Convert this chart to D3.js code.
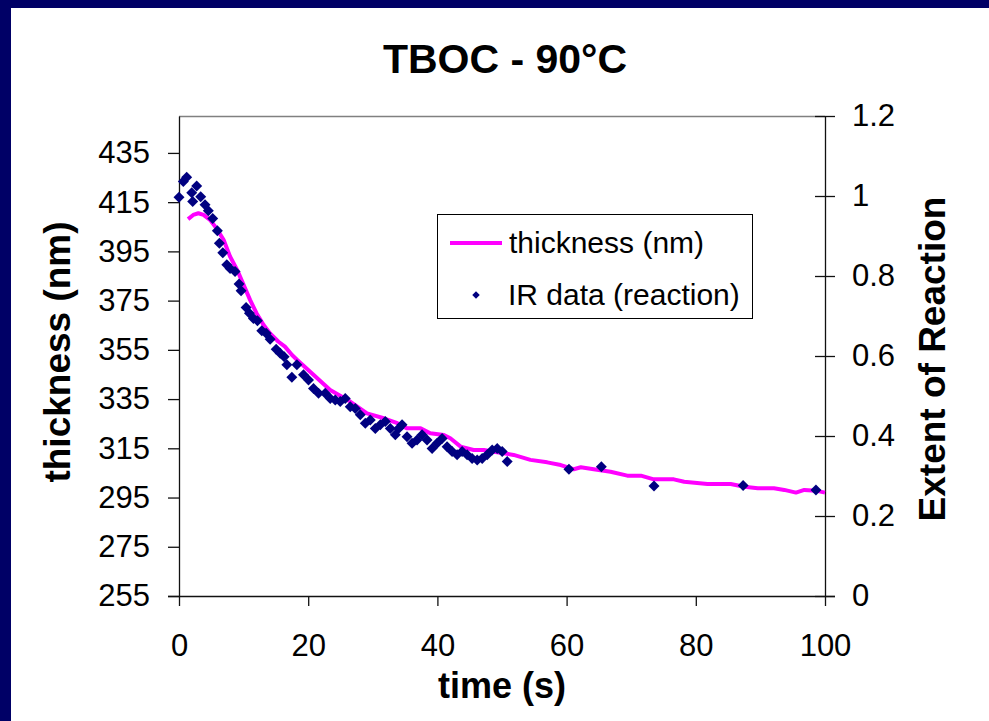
<!DOCTYPE html>
<html>
<head>
<meta charset="utf-8">
<script src="https://cdn.jsdelivr.net/npm/d3@7"></script>
<style>
body { margin: 0; background: #fff; }
svg { display: block; font-family: "Liberation Sans", Arial, sans-serif; }
</style>
</head>
<body>
<svg id="canvas"></svg>
<script>
var width = 989
var height = 721

// thickness line (left axis)
var lineTime = [1.4, 2.2, 3.0, 3.8, 4.8, 5.8, 6.9, 7.9, 9.0, 10.0, 11.0, 12.0, 13.1, 14.1, 15.4, 16.4, 17.5, 18.3, 20.3, 23.4, 26.5, 29.1, 31.7, 33.8, 35.3, 37.4, 38.9, 41.0, 42.0, 43.6, 45.6, 47.2, 48.7, 50.3, 51.8, 54.4, 57.0, 59.1, 61.1, 62.2, 64.2, 66.8, 69.4, 71.5, 73.5, 76.6, 78.2, 81.8, 85.4, 87.5, 89.6, 92.1, 93.7, 95.5, 96.8, 98.6, 100]
var lineThickness = [408.1, 409.8, 410.5, 409.8, 407.8, 404.4, 399.7, 392.9, 387.5, 381.4, 375.3, 369.9, 365.1, 361.7, 358.3, 356.3, 352.9, 350.9, 346.1, 338.7, 334.0, 329.2, 327.2, 325.2, 323.1, 323.1, 321.1, 320.4, 319.1, 315.7, 314.3, 314.3, 313.6, 313.0, 312.3, 310.3, 309.3, 308.2, 306.5, 307.3, 306.5, 305.5, 303.9, 303.9, 302.4, 302.4, 301.4, 300.5, 300.5, 299.4, 298.8, 298.8, 298.1, 297.0, 298.1, 297.8, 297.0]

// IR data points (right axis)
var irTime = [0, 0.67, 1.19, 1.97, 2.12, 2.74, 3.36, 4.03, 4.54, 5.22, 5.94, 6.25, 6.78, 7.4, 7.91, 8.68, 9.3, 9.61, 10.39, 10.9, 11.52, 12.14, 12.82, 13.49, 14.11, 15.04, 15.66, 16.28, 16.7, 17.47, 18.25, 19.27, 20.05, 20.82, 21.6, 22.64, 23.41, 24.19, 24.96, 25.74, 26.51, 27.29, 28.06, 28.84, 29.61, 30.39, 31.16, 31.94, 32.71, 33.49, 34.0, 34.53, 35.3, 36.08, 36.85, 37.63, 38.4, 39.18, 39.95, 40.73, 41.5, 42.28, 43.05, 43.83, 44.6, 45.38, 46.16, 46.93, 47.71, 48.48, 49.26, 50.03, 50.81, 60.36, 65.38, 73.53, 87.33, 98.6]
var irExtent = [0.997, 1.036, 1.047, 1.008, 0.986, 1.025, 0.998, 0.978, 0.963, 0.944, 0.913, 0.882, 0.858, 0.828, 0.819, 0.811, 0.78, 0.763, 0.721, 0.707, 0.694, 0.688, 0.663, 0.657, 0.642, 0.617, 0.607, 0.598, 0.578, 0.547, 0.578, 0.553, 0.54, 0.519, 0.507, 0.507, 0.494, 0.49, 0.486, 0.494, 0.473, 0.469, 0.453, 0.432, 0.44, 0.419, 0.428, 0.436, 0.419, 0.403, 0.419, 0.428, 0.398, 0.382, 0.39, 0.403, 0.39, 0.369, 0.382, 0.394, 0.373, 0.361, 0.353, 0.361, 0.353, 0.344, 0.34, 0.344, 0.353, 0.365, 0.369, 0.361, 0.336, 0.317, 0.323, 0.275, 0.276, 0.265]

var xTicks = [0, 20, 40, 60, 80, 100]
var leftTicks = [255, 275, 295, 315, 335, 355, 375, 395, 415, 435]
var rightTicks = [0, 0.2, 0.4, 0.6, 0.8, 1, 1.2]

var plotLeft = 179, plotRight = 825, plotTop = 116, plotBottom = 596

var svg = d3.select("#canvas")
	.attr("width", width)
	.attr("height", height)

svg.append("rect").attr("width", width).attr("height", height).attr("fill", "#fff")
// navy slide frame
svg.append("rect").attr("x", 0).attr("y", 0).attr("width", width).attr("height", 8).attr("fill", "#000066")
svg.append("rect").attr("x", 0).attr("y", 0).attr("width", 11).attr("height", height).attr("fill", "#000066")

var x = d3.scaleLinear().domain([0, 100]).range([plotLeft, plotRight])
var yLeft = d3.scaleLinear().domain([255, 450]).range([plotBottom, plotTop])
var yRight = d3.scaleLinear().domain([0, 1.2]).range([plotBottom, plotTop])

// plot area top border
svg.append("line")
	.attr("x1", plotLeft).attr("x2", plotRight)
	.attr("y1", plotTop + 0.5).attr("y2", plotTop + 0.5)
	.attr("stroke", "#808080")
	.attr("stroke-width", 1.5)

function styleAxis(g, size) {
	g.selectAll("path, line").attr("stroke", "#111").attr("stroke-width", 1.3)
	g.selectAll("text").attr("font-size", size).attr("fill", "#000")
		.attr("font-family", "Liberation Sans, Arial, sans-serif")
}

var gx = svg.append("g")
	.attr("transform", "translate(0," + plotBottom + ")")
	.call(d3.axisBottom(x).tickValues(xTicks).tickSize(10).tickSizeOuter(0).tickPadding(28))
styleAxis(gx, 31)
gx.select(".domain").attr("d", "M" + (plotLeft - 11) + ",0.5H" + (plotRight + 10))

var gl = svg.append("g")
	.attr("transform", "translate(" + plotLeft + ",0)")
	.call(d3.axisLeft(yLeft).tickValues(leftTicks).tickSize(11).tickSizeOuter(0).tickPadding(18))
styleAxis(gl, 31)

var gr = svg.append("g")
	.attr("transform", "translate(" + plotRight + ",0)")
	.call(d3.axisRight(yRight).tickValues(rightTicks).tickFormat(d3.format("")).tickSize(10).tickSizeOuter(0).tickPadding(17))
styleAxis(gr, 31)

var gr2 = svg.append("g")
	.attr("transform", "translate(" + plotRight + ",0)")
	.call(d3.axisRight(yRight).tickValues(rightTicks).tickFormat("").tickSize(-10).tickSizeOuter(0))
styleAxis(gr2, 31)
gr2.select(".domain").remove()

// thickness line
var lineData = lineTime.map(function(t, i) { return [t, lineThickness[i]] })
svg.append("path")
	.datum(lineData)
	.attr("fill", "none")
	.attr("stroke", "#ff00ff")
	.attr("stroke-width", 4)
	.attr("stroke-linejoin", "round")
	.attr("d", d3.line()
		.x(function(d) { return x(d[0]) })
		.y(function(d) { return yLeft(d[1]) }))

// IR points
var pts = irTime.map(function(t, i) { return [t, irExtent[i]] })
svg.selectAll(".pt")
	.data(pts)
	.join("path")
	.attr("class", "pt")
	.attr("d", d3.symbol(d3.symbolSquare, 60))
	.attr("fill", "#000080")
	.attr("transform", function(d) {
		return "translate(" + x(d[0]) + "," + yRight(d[1]) + ") rotate(45)"
	})

// title and axis titles
svg.append("text")
	.attr("x", 505).attr("y", 73)
	.attr("text-anchor", "middle")
	.attr("font-size", 41).attr("font-weight", "bold")
	.text("TBOC - 90°C")

svg.append("text")
	.attr("x", 502).attr("y", 698)
	.attr("text-anchor", "middle")
	.attr("font-size", 36).attr("font-weight", "bold")
	.text("time (s)")

svg.append("text")
	.attr("transform", "translate(70,352) rotate(-90)")
	.attr("text-anchor", "middle")
	.attr("font-size", 37).attr("font-weight", "bold")
	.text("thickness (nm)")

svg.append("text")
	.attr("transform", "translate(945,359) rotate(-90)")
	.attr("text-anchor", "middle")
	.attr("font-size", 37).attr("font-weight", "bold")
	.text("Extent of Reaction")

// legend
var legend = svg.append("g")
legend.append("rect")
	.attr("x", 437.5).attr("y", 214.5)
	.attr("width", 315).attr("height", 104)
	.attr("fill", "#fff")
	.attr("stroke", "#000")
	.attr("stroke-width", 1)
legend.append("line")
	.attr("x1", 450).attr("x2", 502)
	.attr("y1", 243).attr("y2", 243)
	.attr("stroke", "#ff00ff")
	.attr("stroke-width", 4)
legend.append("text")
	.attr("x", 509).attr("y", 253)
	.attr("font-size", 30)
	.text("thickness (nm)")
legend.append("path")
	.attr("d", d3.symbol(d3.symbolSquare, 28))
	.attr("fill", "#000080")
	.attr("transform", "translate(476,295) rotate(45)")
legend.append("text")
	.attr("x", 508).attr("y", 305)
	.attr("font-size", 30)
	.text("IR data (reaction)")
</script>
</body>
</html>
